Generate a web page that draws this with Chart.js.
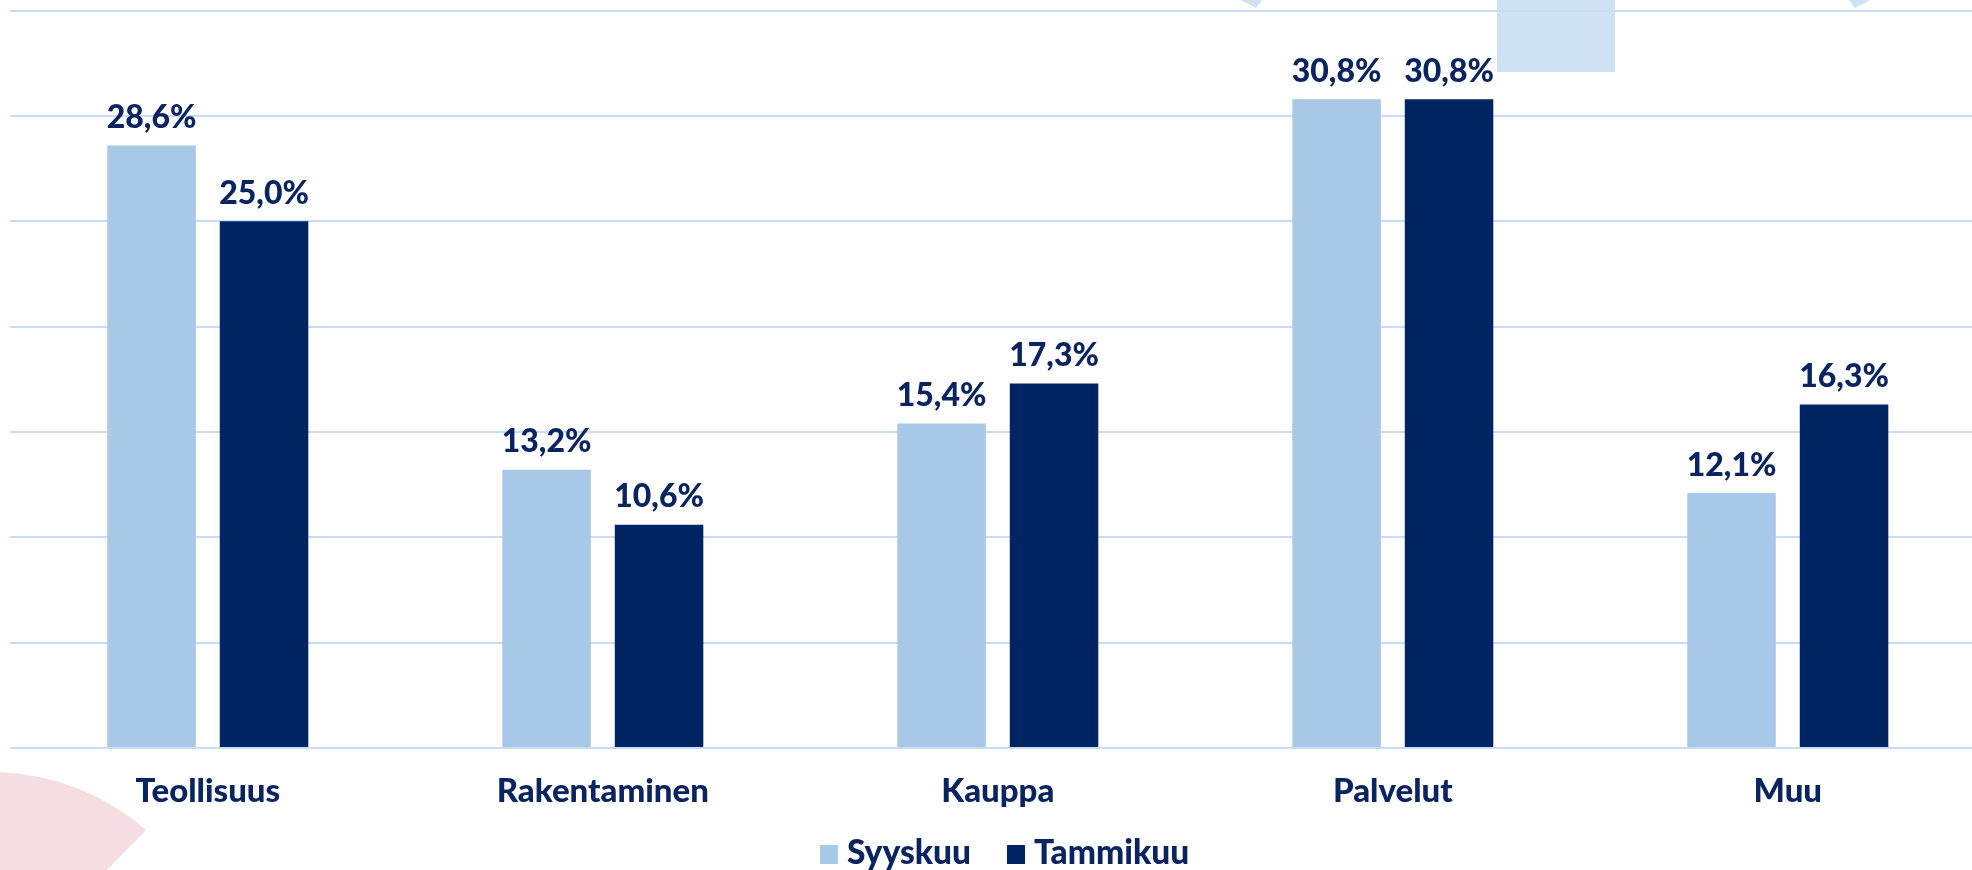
<!DOCTYPE html>
<html>
<head>
<meta charset="utf-8">
<script src="https://cdn.jsdelivr.net/npm/chart.js@4.4.1/dist/chart.umd.min.js"></script>
<style>
  html, body { margin: 0; padding: 0; background: #ffffff; overflow: hidden; width: 1972px; height: 870px; }
  #wrap { position: relative; width: 1972px; height: 870px; overflow: hidden; }
  #deco { position: absolute; left: 0; top: 0; width: 1972px; height: 870px; }
  #c { position: absolute; left: 0; top: 0; }
  #legend { position: absolute; left: 820px; top: 834.5px; font-family: Lato, sans-serif; font-weight: 900; font-size: 33.5px; line-height: 32px; color: #0a2461; white-space: nowrap; }
  #legend .sw { display: inline-block; width: 18px; height: 19px; vertical-align: baseline; }
</style>
</head>
<body>
<div id="wrap">
  <svg id="deco" width="1972" height="870" xmlns="http://www.w3.org/2000/svg">
    <path d="M 0 772 A 238 238 0 0 1 146 830 L 107 870 L 0 870 Z" fill="#f6dde2"/>
    <rect x="1497" y="0" width="118" height="72" fill="#cfe2f4"/>
    <polygon points="1241,0 1262,0 1256,8" fill="#cfe2f4"/>
    <polygon points="1849,0 1870,0 1855,8" fill="#cfe2f4"/>
  </svg>
  <canvas id="c" width="1990" height="870"></canvas>
  <div id="legend"></div>
</div>
<script>
const categories = ['Teollisuus', 'Rakentaminen', 'Kauppa', 'Palvelut', 'Muu'];
const seriesNames = ['Syyskuu', 'Tammikuu'];
const syyskuu = [28.6, 13.2, 15.4, 30.8, 12.1];
const tammikuu = [25.0, 10.6, 17.3, 30.8, 16.3];
const yMin = 0, yMax = 35, yStep = 5;

const LIGHT = '#a7c9e7';
const DARK = '#002562';
const TEXT = '#0a2461';
const GRID = '#c8dcf8';
const FONT = 'Lato, sans-serif';

function fmt(v) { return v.toFixed(1).replace('.', ',') + '%'; }

const valueLabels = {
  id: 'valueLabels',
  afterDatasetsDraw(chart) {
    const ctx = chart.ctx;
    ctx.save();
    ctx.font = '900 32px ' + FONT;
    ctx.fillStyle = TEXT;
    ctx.textAlign = 'center';
    ctx.textBaseline = 'alphabetic';
    chart.data.datasets.forEach((ds, di) => {
      const meta = chart.getDatasetMeta(di);
      meta.data.forEach((bar, i) => {
        ctx.fillText(fmt(ds.data[i]), bar.x, bar.y - 17.5);
      });
    });
    ctx.restore();
  }
};

const chart = new Chart(document.getElementById('c'), {
  type: 'bar',
  data: {
    labels: categories,
    datasets: [
      { label: seriesNames[0], data: syyskuu, backgroundColor: LIGHT, borderWidth: 0 },
      { label: seriesNames[1], data: tammikuu, backgroundColor: DARK, borderWidth: 0 }
    ]
  },
  options: {
    responsive: false,
    animation: false,
    devicePixelRatio: 1,
    categoryPercentage: 0.5696,
    barPercentage: 0.787,
    layout: { padding: { left: 10.3, right: 4.7, top: 10.7, bottom: 34.5 } },
    plugins: {
      legend: { display: false },
      tooltip: { enabled: false },
      title: { display: false }
    },
    scales: {
      x: {
        grid: { display: false, drawTicks: false },
        border: { display: false },
        ticks: {
          color: TEXT,
          font: { family: FONT, size: 33, weight: '900' },
          padding: 24,
          maxRotation: 0,
          autoSkip: false
        }
      },
      y: {
        min: yMin,
        max: yMax,
        grid: { color: GRID, lineWidth: 2, drawTicks: false },
        border: { display: false },
        ticks: { display: false, stepSize: yStep }
      }
    }
  },
  plugins: [valueLabels]
});

// legend built from the datasets
const lg = document.getElementById('legend');
chart.data.datasets.forEach((ds, i) => {
  const sw = document.createElement('span');
  sw.className = 'sw';
  sw.style.background = ds.backgroundColor;
  sw.style.marginRight = '9px';
  if (i > 0) sw.style.marginLeft = '36px';
  const t = document.createElement('span');
  t.textContent = ds.label;
  lg.appendChild(sw);
  lg.appendChild(t);
});
</script>
</body>
</html>
